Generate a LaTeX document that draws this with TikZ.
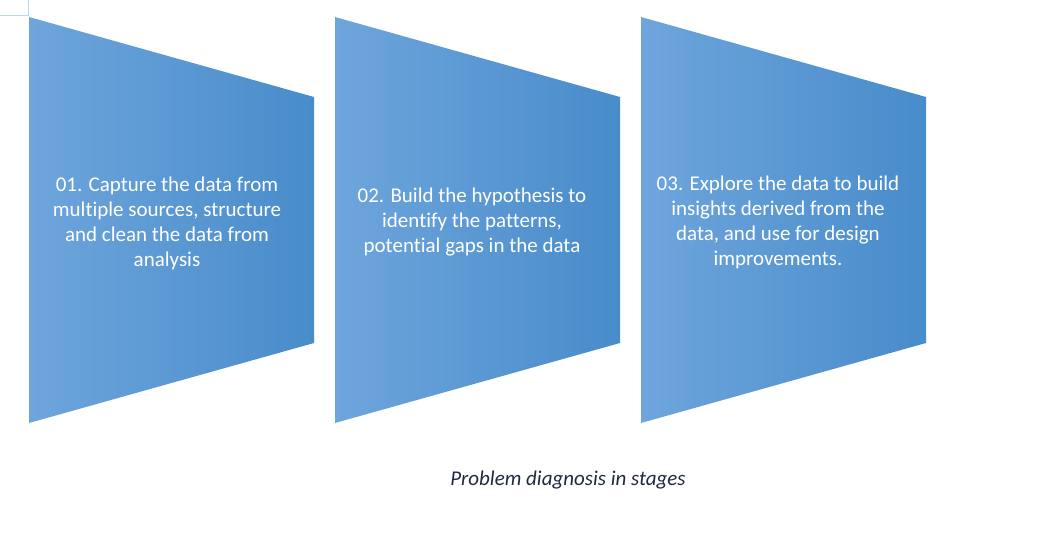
\documentclass[tikz,border=0pt]{standalone}
\usepackage{fontspec}
\setmainfont{Carlito}[Ligatures=NoCommon]
\usepackage{xcolor}
\definecolor{stageleft}{RGB}{110,165,220}
\definecolor{stageright}{RGB}{72,140,202}
\definecolor{captioncol}{RGB}{32,42,62}
\definecolor{markcol}{RGB}{185,215,242}

\begin{document}
\begin{tikzpicture}[
            x = 1pt, y = -1pt, % pixel grid of the reference
            stage/.style = {left color=stageleft, right color=stageright, draw=none},
            stagetext/.style = {text=white, align=center, font=\fontsize{21}{25}\selectfont},
            caption/.style = {text=captioncol, font=\fontsize{21}{25}\selectfont\itshape}
        ]
\useasboundingbox (0,0) rectangle (1047,537);

% corner mark
\draw[markcol, line width=0.8pt] (0,15) -- (28,15) -- (28,0);

% the three stages
\shade[stage] (29,17) -- (314,97) -- (314,343) -- (29,423) -- cycle;
\shade[stage] (335,17) -- (620,97) -- (620,343) -- (335,423) -- cycle;
\shade[stage] (641,17) -- (926,97) -- (926,343) -- (641,423) -- cycle;

\node[stagetext] (S1) at (167,223) {01. Capture the data from\\multiple sources, structure\\and clean the data from\\analysis};
\node[stagetext] (S2) at (472,222) {02. Build the hypothesis to\\identify the patterns,\\potential gaps in the data};
\node[stagetext] (S3) at (778,222) {03. Explore the data to build\\insights derived from the\\data, and use for design\\improvements.};

\node[caption] (C) at (568,480) {Problem diagnosis in stages};
\end{tikzpicture}
\end{document}
